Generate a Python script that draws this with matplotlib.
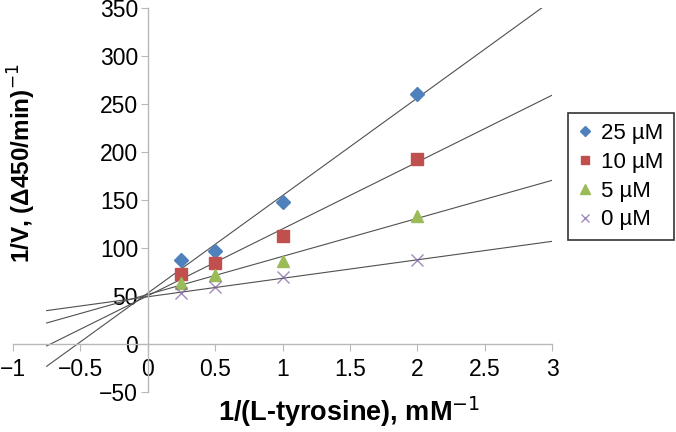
import numpy as np
import matplotlib
matplotlib.use("Agg")
import matplotlib.pyplot as plt

plt.rcParams['font.family'] = ['Liberation Sans', 'DejaVu Sans']

x = [0.25, 0.5, 1.0, 2.0]
labels = ["25 \u00b5M", "10 \u00b5M", "5 \u00b5M", "0 \u00b5M"]
y25 = [88, 97, 148, 260]
y10 = [73, 84, 112, 193]
y5 = [64, 72, 86, 133]
y0 = [53, 59, 70, 87]
series = [y25, y10, y5, y0]
colors = ["#4F81BD", "#C0504D", "#9BBB59", "#8064A2"]
markers = ["D", "s", "^", "x"]
sizes = [7, 8.5, 9, 8]

xticks = [-1, -0.5, 0, 0.5, 1, 1.5, 2, 2.5, 3]
yticks = [-50, 0, 50, 100, 150, 200, 250, 300, 350]

fig = plt.figure(figsize=(6.76, 4.32), dpi=100)
ax = fig.add_axes([13/676, 40/432, (552-13)/676, (392-8)/432])
ax.set_xlim(-1, 3)
ax.set_ylim(-50, 350)

xfit = np.array([-0.75, 3.0])
for ys, c, m, s, lab in zip(series, colors, markers, sizes, labels):
    k, b = np.polyfit(x, ys, 1)
    ax.plot(xfit, k * xfit + b, color="#505050", lw=0.8, zorder=2)
    if m == "x":
        ax.plot(x, ys, linestyle="none", marker=m, color=c, ms=s, mew=1.0,
                label=lab, zorder=3, alpha=0.75)
    else:
        ax.plot(x, ys, linestyle="none", marker=m, color=c, ms=s,
                label=lab, zorder=3)

for side in ["top", "right"]:
    ax.spines[side].set_visible(False)
ax.spines["left"].set_position(("data", 0))
ax.spines["bottom"].set_position(("data", 0))
for side in ["left", "bottom"]:
    ax.spines[side].set_color("#B8B8B8")
    ax.spines[side].set_linewidth(1.0)

ax.set_xticks(xticks)
ax.set_xticklabels([("%g" % v).replace("-", "\u2212") for v in xticks])
ax.set_yticks(yticks)
ax.set_yticklabels([("%g" % v).replace("-", "\u2212") for v in yticks])
ax.tick_params(axis="both", colors="#B8B8B8", labelcolor="black",
               labelsize=16.5, length=5, direction="out")
ax.tick_params(axis="y", pad=2)
ax.tick_params(axis="x", pad=5)

fig.text(22/676, (432-163)/432, "1/V, (\u0394450/min)$^{\u22121}$", rotation=90,
         ha="center", va="center", fontsize=17.5, fontweight="bold")
fig.text(349/676, (432-412)/432, "1/(L-tyrosine), mM$^{\u22121}$",
         ha="center", va="center", fontsize=19.5, fontweight="bold")

leg = ax.legend(loc="upper left", bbox_to_anchor=(568/676, (432-113)/432),
                bbox_transform=fig.transFigure, frameon=True, fancybox=False,
                fontsize=16, handlelength=0.6, handletextpad=0.45,
                borderpad=0.45, labelspacing=0.35, borderaxespad=0,
                markerscale=0.75)
leg.get_frame().set_edgecolor("black")
leg.get_frame().set_linewidth(1.2)

fig.savefig("out.png", dpi=100)
